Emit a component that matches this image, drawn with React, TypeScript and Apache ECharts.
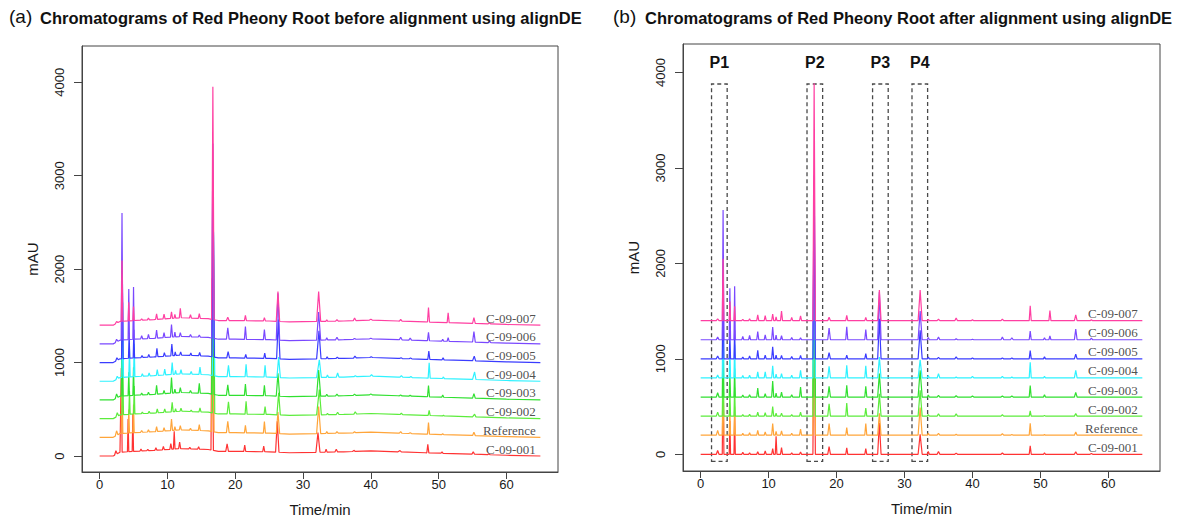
import React, { useEffect, useRef } from "react";
import * as echarts from "echarts";

// ---------- data ----------
const SAMPLE_NAMES = ["C-09-001", "Reference", "C-09-002", "C-09-003", "C-09-004", "C-09-005", "C-09-006", "C-09-007"];
const SAMPLE_OFFSETS = [0, 200, 400, 600, 800, 1000, 1200, 1400];
const SAMPLE_COLORS = ["#ff3333", "#ffa53a", "#5cec3c", "#30e030", "#2ef2ff", "#3a3cff", "#7a48ff", "#ff3fa2"];

// retention times (min) of the peaks after alignment and their half widths (min)
const PEAK_TIMES = [2.5, 3.3, 4.3, 5.0, 6.2, 7.2, 8.4, 9.5, 10.6, 11.1, 11.9, 13.4, 14.7, 16.7, 18.9, 21.5, 24.3, 26.3, 32.3, 33.5, 35.0, 37.6, 40.0, 44.4, 45.8, 48.5, 50.6, 51.4, 55.2, 57.5];
const PEAK_HALF_WIDTHS = [0.2, 0.12, 0.1, 0.1, 0.15, 0.15, 0.15, 0.15, 0.15, 0.12, 0.15, 0.15, 0.15, 0.18, 0.2, 0.15, 0.15, 0.25, 0.3, 0.15, 0.2, 0.2, 0.2, 0.2, 0.2, 0.15, 0.15, 0.15, 0.2, 0.2];
const MAIN_PEAK_INDEX = 13;

// peak heights (mAU above baseline) per sample
const H_001 = [40, 900, 350, 400, 20, 15, 28, 35, 60, 190, 70, 15, 25, 0, 80, 68, 60, 330, 210, 30, 30, 12, 0, 14, 0, 90, 14, 0, 25, 8];
const H_REF = [50, 700, 250, 300, 20, 25, 52, 35, 122, 40, 45, 20, 63, 0, 122, 80, 122, 230, 290, 20, 18, 10, 0, 17, 8, 125, 8, 0, 35, 0];
const H_002 = [40, 600, 250, 300, 15, 20, 42, 35, 100, 30, 32, 15, 42, 0, 130, 136, 84, 235, 270, 15, 25, 25, 0, 14, 0, 55, 8, 0, 28, 0];
const H_003 = [45, 700, 250, 300, 20, 25, 95, 35, 168, 40, 52, 25, 105, 0, 112, 122, 112, 245, 280, 20, 18, 14, 10, 10, 10, 120, 24, 0, 48, 0];
const H_004 = [30, 800, 300, 350, 25, 30, 63, 63, 126, 40, 45, 30, 80, 0, 122, 133, 126, 220, 190, 25, 45, 10, 17, 17, 10, 165, 17, 0, 80, 0];
const H_005 = [30, 900, 250, 300, 20, 30, 90, 38, 126, 40, 35, 25, 35, 0, 66, 38, 56, 420, 300, 20, 15, 20, 8, 8, 8, 88, 21, 0, 50, 0];
const H_006 = [30, 1360, 540, 560, 35, 45, 87, 52, 133, 50, 42, 25, 21, 0, 122, 136, 108, 500, 300, 25, 28, 10, 5, 28, 21, 90, 21, 40, 112, 17];
const H_007 = [20, 650, 200, 150, 15, 20, 60, 52, 70, 40, 100, 35, 50, 0, 35, 56, 35, 320, 320, 15, 15, 28, 10, 17, 0, 155, 0, 105, 62, 10];
const HEIGHTS = [H_001, H_REF, H_002, H_003, H_004, H_005, H_006, H_007];

// height of the dominant peak (~16.7 min) in each panel
const MAIN_PEAK_BEFORE = [1840, 1940, 1640, 1590, 1540, 1640, 2085, 2490];
const MAIN_PEAK_AFTER = [1850, 1950, 1700, 1600, 1550, 1650, 1720, 2487];

// retention-time shift of each sample before alignment (min)
const SHIFT_BEFORE = [-0.1, 0, 0.1, 0, 0.1, 0.05, 0, 0];

// baseline drift before alignment
const DRIFT_TIMES = [0, 2, 3, 5, 8, 12, 16, 17.5, 20, 25, 28, 32, 36, 40, 44, 48, 55, 60, 65];
const DRIFT_LEVELS = [0, 0, 40, 50, 60, 80, 70, 50, 50, 45, 35, 40, 45, 55, 45, 35, 20, 8, 0];

// annotated regions after alignment
const REGION_NAMES = ["P1", "P2", "P3", "P4"];
const REGION_START = [1.6, 15.65, 25.3, 31.1];
const REGION_END = [3.9, 17.95, 27.6, 33.4];
const REGION_LOW = -75;
const REGION_HIGH = 3880;

const X_TICKS = [0, 10, 20, 30, 40, 50, 60];
const Y_TICKS = [0, 1000, 2000, 3000, 4000];
const RUN_END = 65;

// ---------- helpers ----------
function driftAt(t: number, useDrift: boolean): number {
  if (!useDrift) return 0;
  for (let j = 0; j < DRIFT_TIMES.length - 1; j++) {
    if (t >= DRIFT_TIMES[j] && t <= DRIFT_TIMES[j + 1]) {
      const f = (t - DRIFT_TIMES[j]) / (DRIFT_TIMES[j + 1] - DRIFT_TIMES[j]);
      return DRIFT_LEVELS[j] + f * (DRIFT_LEVELS[j + 1] - DRIFT_LEVELS[j]);
    }
  }
  return 0;
}

function buildTrace(k: number, before: boolean): number[][] {
  const base = SAMPLE_OFFSETS[k];
  const shift = before ? SHIFT_BEFORE[k] : 0;
  const pts: number[][] = [];
  const windows: number[][] = [];
  PEAK_TIMES.forEach((pt, i) => {
    const h = i === MAIN_PEAK_INDEX ? (before ? MAIN_PEAK_BEFORE[k] : MAIN_PEAK_AFTER[k]) : HEIGHTS[k][i];
    if (h <= 0) return;
    const t = pt + shift;
    const w = PEAK_HALF_WIDTHS[i];
    windows.push([t - w, t + w]);
    pts.push([t - w, base + driftAt(t - w, before)]);
    pts.push([t, base + driftAt(t, before) + h]);
    pts.push([t + w, base + driftAt(t + w, before)]);
  });
  const knots = before ? DRIFT_TIMES : [0, RUN_END];
  knots.forEach((t) => {
    if (windows.some((w) => t >= w[0] && t <= w[1])) return;
    pts.push([t, base + driftAt(t, before)]);
  });
  pts.sort((a, b) => a[0] - b[0]);
  return pts;
}

const SANS = '"Liberation Sans", Arial, Helvetica, sans-serif';
const SERIF = '"Liberation Serif", "Times New Roman", serif';

function axesFor(gi: number) {
  const x = {
    type: "value",
    gridIndex: gi,
    position: "bottom",
    min: -2.6,
    max: 67.6,
    name: "Time/min",
    nameLocation: "middle",
    nameGap: 30,
    nameTextStyle: { fontFamily: SANS, fontSize: 15, color: "#1a1a1a" },
    axisLine: { show: true, onZero: false, lineStyle: { color: "#444", width: 1 } },
    axisTick: { show: true, inside: false, length: 7, customValues: X_TICKS, lineStyle: { color: "#444" } },
    axisLabel: { customValues: X_TICKS, fontFamily: SANS, fontSize: 13, color: "#1a1a1a", margin: 6, formatter: (v: number) => String(v) },
    splitLine: { show: false },
  };
  const y = {
    type: "value",
    gridIndex: gi,
    position: "left",
    min: gi === 0 ? -171 : -175,
    max: gi === 0 ? 4388 : 4299,
    name: "mAU",
    nameLocation: "middle",
    nameGap: 42,
    nameRotate: 90,
    nameTextStyle: { fontFamily: SANS, fontSize: 15, color: "#1a1a1a" },
    axisLine: { show: true, onZero: false, lineStyle: { color: "#444", width: 1 } },
    axisTick: { show: true, inside: false, length: 8, customValues: Y_TICKS, lineStyle: { color: "#444" } },
    axisLabel: { customValues: Y_TICKS, rotate: 90, fontFamily: SANS, fontSize: 13, color: "#1a1a1a", margin: 16, formatter: (v: number) => String(v) },
    splitLine: { show: false },
  };
  return { x, y };
}

export default function App() {
  const ref = useRef<HTMLDivElement>(null);
  useEffect(() => {
    if (!ref.current) return;
    const chart = echarts.init(ref.current, undefined, { renderer: "svg" });
    const a = axesFor(0);
    const b = axesFor(1);
    const series: any[] = [];
    [0, 1].forEach((gi) => {
      SAMPLE_NAMES.forEach((name, k) => {
        series.push({
          type: "line",
          name,
          xAxisIndex: gi,
          yAxisIndex: gi,
          data: buildTrace(k, gi === 0),
          showSymbol: false,
          symbol: "none",
          silent: true,
          lineStyle: { color: SAMPLE_COLORS[k], width: 1.2 },
          z: 2 + k * 0.01,
        });
      });
      series.push({
        type: "scatter",
        xAxisIndex: gi,
        yAxisIndex: gi,
        symbolSize: 1,
        itemStyle: { color: "rgba(0,0,0,0)" },
        silent: true,
        data: SAMPLE_NAMES.map((n, k) => [64.4, SAMPLE_OFFSETS[k], n]),
        label: {
          show: true,
          position: [0, 0],
          align: "right",
          verticalAlign: "bottom",
          formatter: (p: any) => p.data[2],
          fontFamily: SERIF,
          fontSize: 13,
          color: "#222",
        },
        z: 5,
      });
    });
    series.push({
      type: "line",
      xAxisIndex: 1,
      yAxisIndex: 1,
      data: [],
      z: 6,
      markArea: {
        silent: true,
        itemStyle: { color: "rgba(0,0,0,0)", borderColor: "#4a4a4a", borderWidth: 1.3, borderType: [4, 3] },
        label: { show: true, position: "top", distance: 13, fontFamily: SANS, fontSize: 16, fontWeight: "bold", color: "#111" },
        data: REGION_NAMES.map((n, i) => [
          { name: n, xAxis: REGION_START[i], yAxis: REGION_LOW },
          { xAxis: REGION_END[i], yAxis: REGION_HIGH },
        ]),
      },
    });

    chart.setOption({
      animation: false,
      backgroundColor: "#fff",
      grid: [
        { left: 82, top: 46, width: 476, height: 426, show: true, borderColor: "#444", borderWidth: 1, backgroundColor: "transparent" },
        { left: 683, top: 44, width: 477, height: 427, show: true, borderColor: "#444", borderWidth: 1, backgroundColor: "transparent" },
      ],
      xAxis: [a.x, b.x],
      yAxis: [a.y, b.y],
      series,
      graphic: [
        { type: "text", left: 9, top: 7, style: { text: "(a)", font: `19px ${SANS}`, fill: "#111" } },
        { type: "text", left: 40, top: 9, style: { text: "Chromatograms of Red Pheony Root before alignment using alignDE", font: `bold 16.5px ${SANS}`, fill: "#111" } },
        { type: "text", left: 613, top: 7, style: { text: "(b)", font: `19px ${SANS}`, fill: "#111" } },
        { type: "text", left: 645, top: 9, style: { text: "Chromatograms of Red Pheony Root after alignment using alignDE", font: `bold 16.5px ${SANS}`, fill: "#111" } },
      ],
    });
    return () => chart.dispose();
  }, []);
  return <div ref={ref} style={{ position: "fixed", left: 0, top: 0, width: 1187, height: 523, background: "#fff" }} />;
}
